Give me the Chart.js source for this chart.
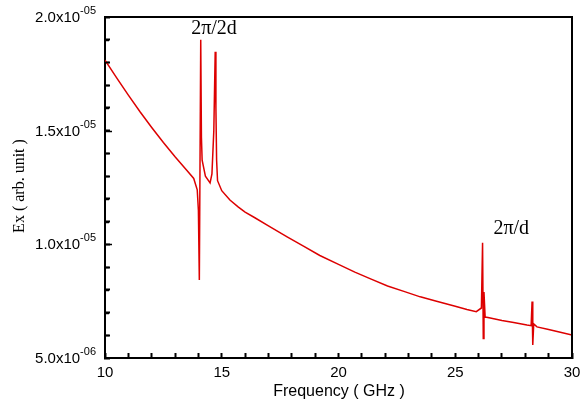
<!DOCTYPE html>
<html>
<head>
<meta charset="utf-8">
<script src="https://cdn.jsdelivr.net/npm/chart.js@4"></script>
<style>
  body { margin: 0; background: #fff; }
</style>
</head>
<body>
<canvas id="myChart" width="581" height="404"></canvas>
<script>
// frequency (GHz) and Ex (x1e-6, arb. unit)
var freq = [10, 10.5, 11, 11.5, 12, 12.5, 13, 13.5, 13.8, 13.95, 14.0, 14.04, 14.1, 14.13, 14.16, 14.3, 14.5, 14.58, 14.66, 14.72, 14.75, 14.78, 14.82, 15,
  15.35, 15.7, 16, 16.4, 17, 17.8, 18.5, 19.2, 20, 20.7, 21.4, 22.1, 22.8, 23.5, 24.2, 25, 25.5, 25.9,
  26.12, 26.17, 26.2, 26.23, 26.28, 26.4, 27, 27.5, 28.07, 28.25, 28.29, 28.32, 28.36, 28.5, 29, 29.5, 30];
var ex = [18.1, 17.32, 16.56, 15.83, 15.14, 14.48, 13.85, 13.26, 12.9, 12.4, 11.5, 8.43, 19.0, 14.7, 13.7, 13.0, 12.7, 13.1, 15.0, 18.47, 16.0, 13.7, 12.8, 12.36,
  11.95, 11.65, 11.42, 11.18, 10.81, 10.33, 9.92, 9.51, 9.12, 8.78, 8.47, 8.17, 7.93, 7.69, 7.50, 7.28, 7.13, 7.04,
  7.2, 10.07, 5.86, 7.9, 6.8, 6.78, 6.65, 6.56, 6.45, 6.42, 7.48, 5.57, 6.5, 6.37, 6.25, 6.13, 6.01];

var xRange = [10, 30];
var yRange = [5e-6, 2e-5];
var yTicks = [5.0e-6, 1.0e-5, 1.5e-5, 2.0e-5];
var yTickText = ["5.0x10", "1.0x10", "1.5x10", "2.0x10"];
var yTickExp = ["-06", "-05", "-05", "-05"];

// peak labels (data coordinates)
var annoText = ["2\u03C0/2d", "2\u03C0/d"];
var annoX = [14.67, 27.4];
var annoY = [1.947e-5, 1.067e-5];

// y labels with superscript, axis titles, peak labels, frame
var labels = {
  id: "labels",
  afterDraw: function (chart) {
    var c = chart.ctx;
    var xs = chart.scales.x;
    var ys = chart.scales.y;
    var l = xs.getPixelForValue(xRange[0]);
    var r = xs.getPixelForValue(xRange[1]);
    var t = ys.getPixelForValue(yRange[1]);
    var b = ys.getPixelForValue(yRange[0]);
    c.save();
    c.setLineDash([]);
    c.strokeStyle = "#000";
    c.lineWidth = 2;
    c.beginPath();
    c.moveTo(l, t);
    c.lineTo(r, t);
    c.lineTo(r, b);
    c.stroke();
    // y ticks, every 1e-6, longer every 5e-6
    c.lineWidth = 1.5;
    for (var k = 6; k < 20; k++) {
      var py = Math.round(ys.getPixelForValue(k * 1e-6)) + 0.5;
      c.beginPath();
      c.moveTo(l, py);
      c.lineTo(l + (k % 5 === 0 ? 7 : 4), py);
      c.stroke();
    }

    c.fillStyle = "#000";
    c.textBaseline = "middle";
    c.textAlign = "right";
    for (var i = 0; i < yTicks.length; i++) {
      var yy = ys.getPixelForValue(yTicks[i]);
      c.font = "11px 'Liberation Sans'";
      var ew = c.measureText(yTickExp[i]).width;
      c.fillText(yTickExp[i], 96, yy - 6);
      c.font = "15px 'Liberation Sans'";
      c.fillText(yTickText[i], 96 - ew, yy + 1);
    }
    c.textAlign = "center";
    c.font = "16px 'Liberation Sans'";
    c.fillText("Frequency ( GHz )", 339, 392);
    c.save();
    c.translate(20, 186);
    c.rotate(-Math.PI / 2);
    c.font = "16px 'Liberation Serif'";
    c.fillText("Ex ( arb. unit )", 0, 0);
    c.restore();
    c.font = "20px 'Liberation Serif'";
    for (var j = 0; j < annoText.length; j++) {
      c.fillText(annoText[j], xs.getPixelForValue(annoX[j]), ys.getPixelForValue(annoY[j]));
    }
    c.restore();
  }
};

var myChart = new Chart(document.getElementById("myChart"), {
  type: "scatter",
  data: {
    datasets: [{
      data: freq.map(function (f, i) { return { x: f, y: ex[i] * 1e-6 }; }),
      showLine: true,
      borderColor: "#dd0000",
      borderWidth: 1.5,
      pointRadius: 0
    }, {
      // top and right edges of the frame, along the axis limits
      data: [{ x: xRange[0], y: yRange[1] }, { x: xRange[1], y: yRange[1] }, { x: xRange[1], y: yRange[0] }],
      showLine: true,
      borderColor: "#000",
      borderWidth: 2,
      pointRadius: 0,
      clip: false
    }]
  },
  options: {
    responsive: false,
    devicePixelRatio: 1,
    animation: false,
    layout: { padding: { left: 0, top: 17, right: 9, bottom: 0 } },
    plugins: { legend: { display: false }, tooltip: { enabled: false } },
    scales: {
      x: {
        type: "linear",
        min: xRange[0],
        max: xRange[1],
        afterFit: function (scale) {
          scale.height = 46;
          scale.paddingLeft = 0;
          scale.paddingRight = 0;
        },
        grid: { display: true, drawOnChartArea: false, drawTicks: true, tickLength: -5, tickColor: "#000", tickWidth: 2 },
        border: { display: true, color: "#000", width: 2 },
        ticks: {
          stepSize: 1,
          autoSkip: false,
          color: "#000",
          font: { family: "Liberation Sans", size: 15 },
          padding: 11,
          maxRotation: 0,
          callback: function (v) { return v % 5 === 0 ? v : ""; }
        }
      },
      y: {
        type: "linear",
        min: yRange[0],
        max: yRange[1],
        afterFit: function (scale) { scale.width = 105; },
        grid: { display: true, drawOnChartArea: false, drawTicks: true, tickLength: -5, tickColor: "#000", tickWidth: 2 },
        border: { display: true, color: "#000", width: 2 },
        ticks: { stepSize: 1e-6, autoSkip: false, color: "rgba(0,0,0,0)", callback: function () { return ""; } }
      }
    }
  },
  plugins: [labels]
});
</script>
</body>
</html>
